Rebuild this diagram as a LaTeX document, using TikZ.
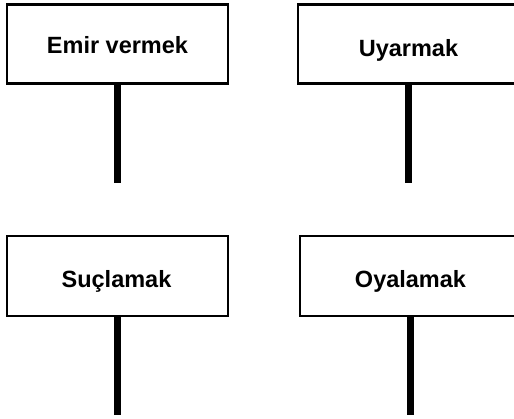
\documentclass[tikz,border=0pt]{standalone}
\usepackage{fontspec}
\setmainfont{Liberation Sans}
\begin{document}
\begin{tikzpicture}[x=1pt,y=-1pt,
  signbox/.style={draw=black, line width=2.2pt, fill=white, rectangle, inner sep=0pt},
  signtext/.style={anchor=base, font=\fontsize{23.5}{28}\selectfont\bfseries, inner sep=0pt},
  post/.style={line width=7pt, line cap=butt}]
\useasboundingbox (0,0) rectangle (514,419);
% boxes
\node[signbox, minimum width=221pt, minimum height=79pt] (b1) at (117.5,44) {};
\node[signbox, minimum width=230pt, minimum height=79pt] (b2) at (413,44) {};
\node[signbox, minimum width=221pt, minimum height=80pt] (b3) at (117.5,276) {};
\node[signbox, minimum width=230pt, minimum height=80pt] (b4) at (415,276) {};
% posts
\coordinate (p1) at (117,183);
\coordinate (p2) at (408,183);
\coordinate (p3) at (117,415);
\coordinate (p4) at (410,415);
\draw[post] (b1.south -| p1) -- (p1);
\draw[post] (b2.south -| p2) -- (p2);
\draw[post] (b3.south -| p3) -- (p3);
\draw[post] (b4.south -| p4) -- (p4);
% texts
\node[signtext] (t1) at (117.5,54) {Emir vermek};
\node[signtext] (t2) at (408.5,57) {Uyarmak};
\node[signtext] (t3) at (116.5,288) {Suçlamak};
\node[signtext] (t4) at (410.5,288) {Oyalamak};
\end{tikzpicture}
\end{document}
